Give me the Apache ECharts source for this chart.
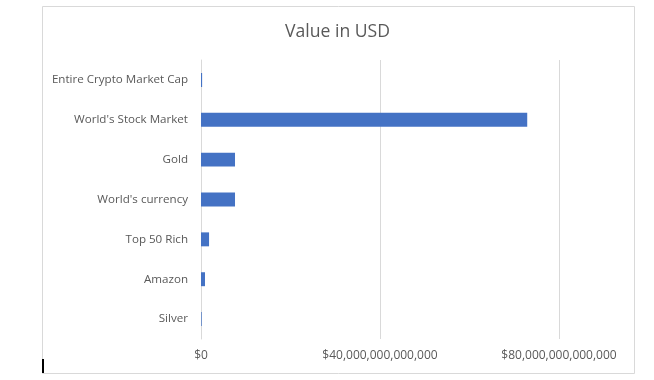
<!DOCTYPE html>
<html><head><meta charset="utf-8">
<script src="https://cdn.jsdelivr.net/npm/echarts@6/dist/echarts.min.js"></script>
<style>html,body{margin:0;padding:0;background:#fff}#c{width:654px;height:380px}</style>
</head><body><div id="c"></div>
<script>
const categories = ["Entire Crypto Market Cap","World's Stock Market","Gold","World's currency","Top 50 Rich","Amazon","Silver"];
const values = [0.25e12, 72.9e12, 7.6e12, 7.6e12, 1.8e12, 0.9e12, 0.15e12];
const xTicks = [0, 40e12, 80e12];
const titleText = "Value in USD";

const chart = echarts.init(document.getElementById('c'));
const font = "Open Sans";
chart.setOption({
  animation: false,
  backgroundColor: '#fff',
  title: {text: titleText, left: 280, top: 18,
    textStyle: {fontFamily: font, fontSize: 17.6, fontWeight: 'normal', color: '#595959'}},
  grid: {left: 201, right: 95, top: 60, bottom: 41, containLabel: false},
  xAxis: {type: 'value', min: xTicks[0], max: xTicks[xTicks.length-1], interval: xTicks[1]-xTicks[0],
    axisLine: {show: false}, axisTick: {show: false},
    splitLine: {show: true, lineStyle: {color: '#d9d9d9', width: 1}},
    axisLabel: {margin: 11, fontFamily: font, fontSize: 12, color: '#595959',
      formatter: v => '$' + v.toLocaleString('en-US')}},
  yAxis: {type: 'category', data: categories, inverse: true,
    axisLine: {show: true, lineStyle: {color: '#d9d9d9', width: 1}}, axisTick: {show: false},
    axisLabel: {margin: 13, fontFamily: font, fontSize: 11.6, color: '#595959'}},
  series: [{type: 'bar', data: values, barWidth: '35%', itemStyle: {color: '#4472c4'}}],
  graphic: [
    {type: 'rect', shape: {x: 42.5, y: 6.5, width: 592, height: 367}, style: {fill: 'none', stroke: '#d9d9d9', lineWidth: 1}, silent: true},
    {type: 'rect', shape: {x: 42, y: 359, width: 2, height: 14}, style: {fill: '#000'}, silent: true}
  ]
});
</script></body></html>
